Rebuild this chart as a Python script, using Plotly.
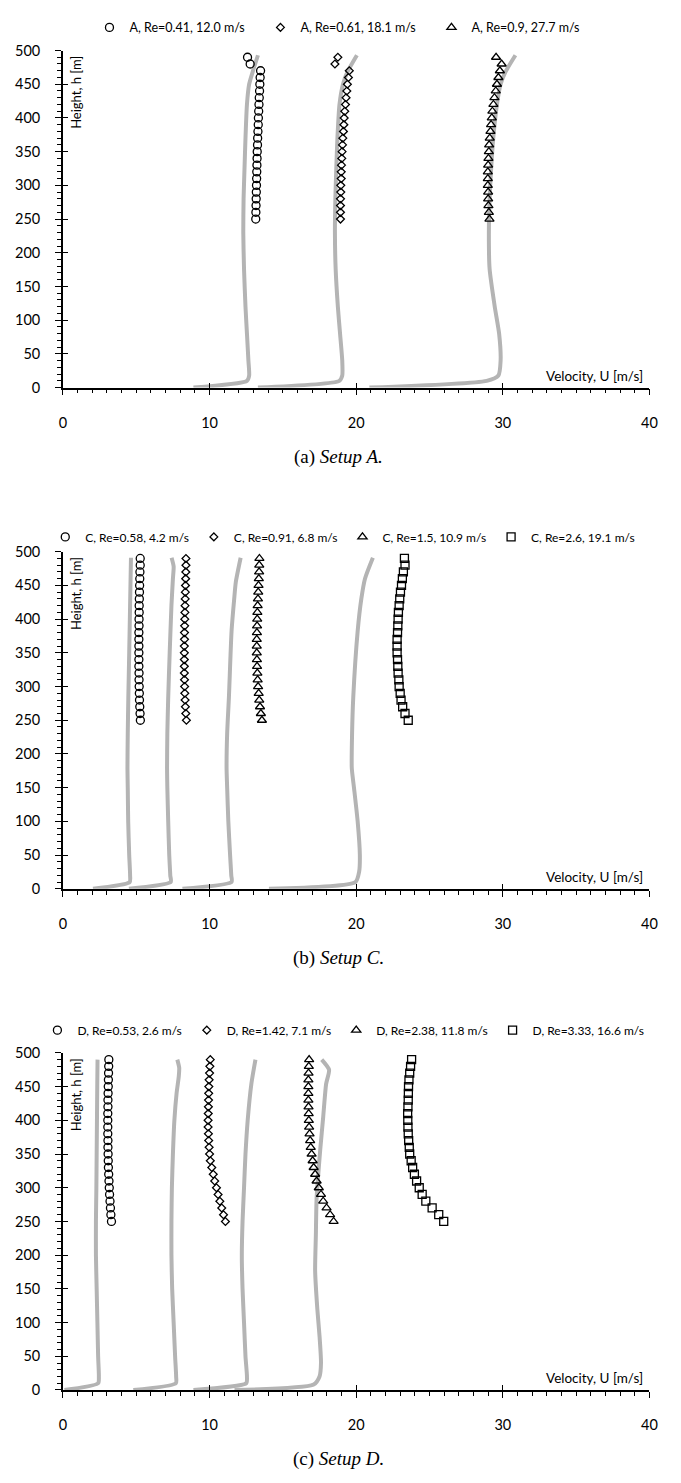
import plotly.graph_objects as go

W, H = 681, 1483

# ---------------- data ----------------
# Marker heights (m)
h_mark = [250, 260, 270, 280, 290, 300, 310, 320, 330, 340, 350, 360, 370, 380,
          390, 400, 410, 420, 430, 440, 450, 460, 470, 480, 490]

# Setup A markers (U in m/s)
a_circ = [13.15, 13.16, 13.17, 13.18, 13.19, 13.20, 13.21, 13.22, 13.23, 13.24, 13.25, 13.27,
          13.28, 13.30, 13.32, 13.33, 13.35, 13.37, 13.39, 13.41, 13.43, 13.45, 13.48, 12.77, 12.59]
a_diam = [18.93, 18.93, 18.93, 18.93, 18.95, 18.95, 18.98, 18.98, 19.00, 19.02, 19.04, 19.07,
          19.09, 19.13, 19.16, 19.18, 19.22, 19.27, 19.31, 19.36, 19.40, 19.47, 19.53, 18.55, 18.75]
a_tri = [29.09, 29.05, 29.02, 29.00, 29.00, 28.98, 28.98, 28.98, 29.00, 29.02, 29.05, 29.07,
         29.11, 29.16, 29.20, 29.25, 29.29, 29.36, 29.43, 29.52, 29.60, 29.70, 29.80, 29.92, 29.54]

# Setup A simulated profiles
a_line_h = [0, 10, 18, 40, 80, 120, 176, 230, 280, 323, 370, 420, 450, 469, 493]
a_line1 = [8.9, 12.55, 12.7, 12.65, 12.55, 12.45, 12.35, 12.3, 12.32, 12.38, 12.45, 12.55, 12.7, 12.95, 13.3]
a_line2 = [13.3, 18.85, 19.05, 19.05, 18.9, 18.75, 18.6, 18.55, 18.58, 18.64, 18.72, 18.86, 19.1, 19.42, 20.05]
a_line3 = [20.9, 28.9, 29.7, 29.85, 29.75, 29.45, 29.1, 29.05, 29.1, 29.2, 29.35, 29.6, 29.85, 30.2, 30.86]

# Setup C markers
c_circ = [5.28, 5.26, 5.24, 5.22, 5.21, 5.20, 5.19, 5.19, 5.18, 5.18, 5.18, 5.18, 5.18,
          5.18, 5.19, 5.19, 5.20, 5.20, 5.21, 5.22, 5.23, 5.24, 5.25, 5.27, 5.27]
c_diam = [8.42, 8.38, 8.35, 8.33, 8.31, 8.30, 8.29, 8.28, 8.28, 8.28, 8.28, 8.28, 8.29,
          8.29, 8.30, 8.31, 8.32, 8.33, 8.34, 8.35, 8.36, 8.37, 8.38, 8.39, 8.39]
c_tri = [13.57, 13.50, 13.44, 13.39, 13.35, 13.31, 13.28, 13.26, 13.24, 13.23, 13.22, 13.22, 13.22,
         13.23, 13.24, 13.25, 13.26, 13.28, 13.30, 13.32, 13.34, 13.36, 13.38, 13.39, 13.40]
c_sq = [23.55, 23.33, 23.17, 23.06, 23.00, 22.93, 22.91, 22.86, 22.84, 22.82, 22.79, 22.79, 22.79,
        22.82, 22.84, 22.86, 22.88, 22.93, 22.97, 23.02, 23.09, 23.15, 23.22, 23.33, 23.29]

# Setup C simulated profiles
c_line1_h = [0, 10, 20, 50, 100, 150, 179, 230, 284, 350, 420, 491]
c_line1 = [2.05, 4.55, 4.58, 4.52, 4.45, 4.42, 4.4, 4.42, 4.46, 4.52, 4.58, 4.64]
c_line2_h = [0, 10, 20, 50, 100, 150, 179, 230, 284, 350, 420, 460, 478, 491]
c_line2 = [4.5, 7.35, 7.32, 7.25, 7.18, 7.12, 7.1, 7.12, 7.18, 7.28, 7.4, 7.5, 7.55, 7.41]
c_line3_h = [0, 10, 20, 50, 100, 150, 179, 230, 284, 382, 430, 455, 491]
c_line3 = [8.15, 11.5, 11.48, 11.4, 11.28, 11.2, 11.16, 11.2, 11.32, 11.5, 11.68, 11.79, 12.12]
c_line4_h = [0, 10, 25, 50, 100, 150, 179, 230, 284, 382, 430, 460, 491]
c_line4 = [14.05, 19.95, 20.2, 20.25, 20.1, 19.85, 19.7, 19.72, 19.8, 20.1, 20.35, 20.6, 21.14]

# Setup D markers
d_circ = [3.31, 3.27, 3.24, 3.21, 3.18, 3.16, 3.14, 3.12, 3.10, 3.09, 3.08, 3.07, 3.07,
          3.06, 3.06, 3.06, 3.06, 3.07, 3.07, 3.08, 3.09, 3.10, 3.11, 3.12, 3.13]
d_diam = [11.08, 10.95, 10.83, 10.70, 10.58, 10.47, 10.35, 10.25, 10.15, 10.05, 10.00, 9.97, 9.94,
          9.92, 9.90, 9.90, 9.91, 9.92, 9.93, 9.94, 9.95, 9.97, 10.00, 10.02, 10.05]
d_tri = [18.46, 18.22, 17.98, 17.75, 17.60, 17.45, 17.30, 17.20, 17.10, 17.03, 16.96, 16.90, 16.86,
         16.82, 16.79, 16.77, 16.76, 16.75, 16.74, 16.74, 16.74, 16.74, 16.75, 16.77, 16.79]
d_sq = [25.97, 25.63, 25.18, 24.75, 24.50, 24.30, 24.12, 23.97, 23.85, 23.75, 23.65, 23.62, 23.58,
        23.55, 23.53, 23.52, 23.51, 23.53, 23.55, 23.56, 23.57, 23.60, 23.65, 23.71, 23.78]

# Setup D simulated profiles
d_line1_h = [0, 10, 20, 50, 100, 150, 200, 250, 300, 350, 400, 450, 490]
d_line1 = [0.1, 2.4, 2.45, 2.4, 2.35, 2.3, 2.25, 2.25, 2.28, 2.3, 2.32, 2.34, 2.36]
d_line2_h = [0, 10, 20, 50, 100, 150, 200, 250, 300, 350, 400, 440, 465, 478, 490]
d_line2 = [4.8, 7.7, 7.72, 7.65, 7.55, 7.45, 7.4, 7.4, 7.43, 7.5, 7.6, 7.75, 7.9, 7.93, 7.8]
d_line3_h = [0, 10, 20, 50, 100, 150, 200, 250, 300, 350, 400, 454, 490]
d_line3 = [8.9, 12.5, 12.55, 12.45, 12.35, 12.25, 12.2, 12.25, 12.35, 12.45, 12.6, 12.85, 13.13]
d_line4_h = [0, 8, 20, 40, 80, 120, 177, 230, 284, 330, 357, 405, 454, 475, 490]
d_line4 = [11.7, 17.1, 17.5, 17.6, 17.5, 17.35, 17.2, 17.25, 17.3, 17.45, 17.55, 17.75, 17.95, 18.15, 17.65]

legend_a = ["A, Re=0.41, 12.0 m/s", "A, Re=0.61, 18.1 m/s", "A, Re=0.9, 27.7 m/s"]
legend_c = ["C, Re=0.58, 4.2 m/s", "C, Re=0.91, 6.8 m/s", "C, Re=1.5, 10.9 m/s", "C, Re=2.6, 19.1 m/s"]
legend_d = ["D, Re=0.53, 2.6 m/s", "D, Re=1.42, 7.1 m/s", "D, Re=2.38, 11.8 m/s", "D, Re=3.33, 16.6 m/s"]
captions = [("(a) ", "Setup A."), ("(b) ", "Setup C."), ("(c) ", "Setup D.")]

x_ticks = [0, 10, 20, 30, 40]
y_ticks = [0, 50, 100, 150, 200, 250, 300, 350, 400, 450, 500]

# ---------------- styling ----------------
LINE_COLOR = "#b4b4b4"
SANS = "Lato, Open Sans, Liberation Sans, sans-serif"
SERIF = "Liberation Serif, Times New Roman, serif"

# pixel geometry of the three panels (top, bottom of plotting area), legend row centre / left edge
panels_px = [(42, 383), (549, 890), (1056, 1397)]
legend_px = [19, 534, 1033]
legend_left_px = [87, 42, 34]
legend_font = [12.5, 12, 12]
x_left_px, x_right_px = 60, 657

symbols = {"circ": "circle-open", "diam": "diamond-open", "tri": "triangle-up-open", "sq": "square-open"}
sizes = {"circ": 8, "diam": 6, "tri": 8, "sq": 8}

fig = go.Figure()


def add_line(u, h, ax):
    fig.add_trace(go.Scatter(x=u, y=h, mode="lines", xaxis="x" + ax, yaxis="y" + ax,
                             line=dict(color=LINE_COLOR, width=4, shape="spline", smoothing=0.6),
                             showlegend=False, hoverinfo="skip"))


def add_markers(u, kind, name, ax, legend):
    fig.add_trace(go.Scatter(x=u, y=h_mark, mode="markers", name=name, xaxis="x" + ax, yaxis="y" + ax,
                             legend=legend,
                             marker=dict(symbol=symbols[kind], size=sizes[kind], color="black",
                                         line=dict(color="black", width=1.3))))


# panel A
for u in (a_line1, a_line2, a_line3):
    add_line(u, a_line_h, "")
for u, k, n in zip((a_circ, a_diam, a_tri), ("circ", "diam", "tri"), legend_a):
    add_markers(u, k, n, "", "legend")

# panel B (Setup C)
for u, h in ((c_line1, c_line1_h), (c_line2, c_line2_h), (c_line3, c_line3_h), (c_line4, c_line4_h)):
    add_line(u, h, "2")
for u, k, n in zip((c_circ, c_diam, c_tri, c_sq), ("circ", "diam", "tri", "sq"), legend_c):
    add_markers(u, k, n, "2", "legend2")

# panel C (Setup D)
for u, h in ((d_line1, d_line1_h), (d_line2, d_line2_h), (d_line3, d_line3_h), (d_line4, d_line4_h)):
    add_line(u, h, "3")
for u, k, n in zip((d_circ, d_diam, d_tri, d_sq), ("circ", "diam", "tri", "sq"), legend_d):
    add_markers(u, k, n, "3", "legend3")


def fy(px):
    return 1 - px / H


def fx(px):
    return px / W


layout = dict(width=W, height=H, autosize=False, margin=dict(l=0, r=0, t=0, b=0),
              paper_bgcolor="white", plot_bgcolor="white", font=dict(family=SANS, color="black"),
              annotations=[])

for i, (top, bot) in enumerate(panels_px):
    sfx = "" if i == 0 else str(i + 1)
    ref = "" if i == 0 else str(i + 1)
    layout["xaxis" + sfx] = dict(domain=[fx(x_left_px), fx(x_right_px)], anchor="y" + ref, range=[0, 40],
                                 tickvals=x_ticks, ticks="outside", ticklen=6, tickwidth=1.3,
                                 tickcolor="black", showline=True, linecolor="black", linewidth=1.5,
                                 showgrid=False, zeroline=False, ticklabelstandoff=15,
                                 tickfont=dict(family=SANS, size=14.5),
                                 minor=dict(dtick=1, ticks="outside", ticklen=4, tickwidth=1,
                                            tickcolor="black", showgrid=False))
    layout["yaxis" + sfx] = dict(domain=[fy(bot), fy(top)], anchor="x" + ref, range=[0, 500],
                                 tickvals=y_ticks, ticks="outside", ticklen=6, tickwidth=1.3,
                                 tickcolor="black", showline=True, linecolor="black", linewidth=1.5,
                                 showgrid=False, zeroline=False, ticklabelstandoff=12,
                                 tickfont=dict(family=SANS, size=14.5),
                                 minor=dict(dtick=10, ticks="outside", ticklen=4, tickwidth=1,
                                            tickcolor="black", showgrid=False))
    # overlay axes to get crossing major ticks
    ox = str(4 + i)
    layout["xaxis" + ox] = dict(overlaying="x" + ref, anchor="y" + ref, range=[0, 40], tickvals=x_ticks,
                                ticks="inside", ticklen=5, tickwidth=1.3, tickcolor="black",
                                showticklabels=False, showline=False, showgrid=False, zeroline=False)
    layout["yaxis" + ox] = dict(overlaying="y" + ref, anchor="x" + ref, range=[0, 500], tickvals=y_ticks,
                                ticks="inside", ticklen=5, tickwidth=1.3, tickcolor="black",
                                showticklabels=False, showline=False, showgrid=False, zeroline=False)

    # legend for the panel
    lname = "legend" if i == 0 else "legend" + str(i + 1)
    leg = dict(orientation="h", x=fx(legend_left_px[i]), xanchor="left",
               y=fy(legend_px[i]), yanchor="middle",
               font=dict(family=SANS, size=legend_font[i]), itemwidth=30, tracegroupgap=0,
               bgcolor="rgba(0,0,0,0)", borderwidth=0)
    if i == 0:
        leg.update(entrywidth=126, entrywidthmode="pixels")
    layout[lname] = leg

    # axis titles inside the plot
    layout["annotations"].append(dict(text="Height, h [m]", xref="paper", yref="paper",
                                      x=fx(x_left_px + 3), y=fy(top + 3), xanchor="left", yanchor="top",
                                      textangle=-90, showarrow=False, font=dict(family=SANS, size=13)))
    layout["annotations"].append(dict(text="Velocity, U [m/s]", xref="paper", yref="paper",
                                      x=fx(x_right_px - 5), y=fy(bot - 2), xanchor="right", yanchor="bottom",
                                      showarrow=False, font=dict(family=SANS, size=13.5)))
    # caption
    pre, it = captions[i]
    layout["annotations"].append(dict(text=pre + "<i>" + it + "</i>", xref="paper", yref="paper",
                                      x=0.5, y=fy(bot + 70), xanchor="center", yanchor="middle",
                                      showarrow=False, font=dict(family=SERIF, size=19)))

fig.update_layout(**layout)
# invisible traces so the overlay tick axes are drawn
for i in range(3):
    ox = str(4 + i)
    fig.add_trace(go.Scatter(x=[None], y=[None], xaxis="x" + ox, yaxis="y" + ox, showlegend=False,
                             hoverinfo="skip"))

fig.write_html("out.html", config={"displayModeBar": False},
               post_script="document.body.style.margin='0px';document.body.style.padding='0px';"
                           "document.documentElement.style.overflow='hidden';")
